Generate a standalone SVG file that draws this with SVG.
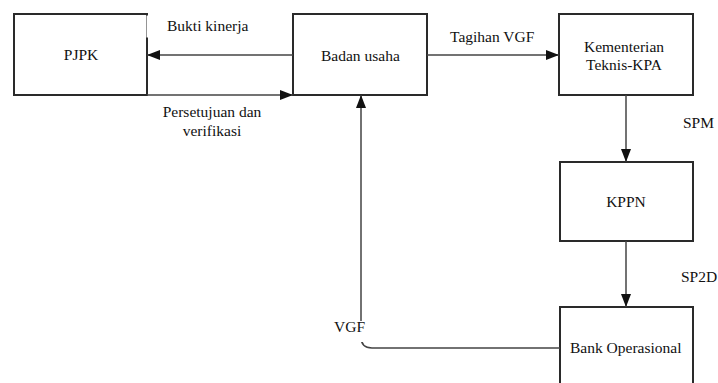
<svg xmlns="http://www.w3.org/2000/svg" width="718" height="383" viewBox="0 0 718 383">
  <defs>
    <marker id="head" markerUnits="userSpaceOnUse" markerWidth="14" markerHeight="10" refX="13" refY="5" orient="auto">
      <path d="M0,0 L13,5 L0,10 z" fill="#111111"/>
    </marker>
  </defs>
  <rect x="0" y="0" width="718" height="383" fill="#ffffff"/>

  <!-- nodes: boxes share one stroke, labels share one serif face -->
  <g id="pjpk" fill="#ffffff" stroke="#2a2a2a" stroke-width="2">
    <rect x="14" y="14" width="133" height="81"/>
    <text x="81" y="60" text-anchor="middle" font-family="'Liberation Serif', 'Times New Roman', serif" font-size="15.5" fill="#111111" stroke="none">PJPK</text>
  </g>
  <g id="badan-usaha" fill="#ffffff" stroke="#2a2a2a" stroke-width="2">
    <rect x="293" y="14" width="134" height="81"/>
    <text x="321" y="61" font-family="'Liberation Serif', 'Times New Roman', serif" font-size="15.5" fill="#111111" stroke="none">Badan usaha</text>
  </g>
  <g id="kementerian" fill="#ffffff" stroke="#2a2a2a" stroke-width="2">
    <rect x="559" y="14" width="134" height="81"/>
    <text x="624" y="52" text-anchor="middle" font-family="'Liberation Serif', 'Times New Roman', serif" font-size="15.5" fill="#111111" stroke="none">Kementerian</text>
    <text x="624" y="70" text-anchor="middle" font-family="'Liberation Serif', 'Times New Roman', serif" font-size="15.5" fill="#111111" stroke="none">Teknis-KPA</text>
  </g>
  <g id="kppn" fill="#ffffff" stroke="#2a2a2a" stroke-width="2">
    <rect x="560" y="162" width="133" height="79"/>
    <text x="626" y="207" text-anchor="middle" font-family="'Liberation Serif', 'Times New Roman', serif" font-size="15.5" fill="#111111" stroke="none">KPPN</text>
  </g>
  <g id="bank-operasional" fill="#ffffff" stroke="#2a2a2a" stroke-width="2">
    <rect x="560" y="307" width="133" height="90"/>
    <text x="570" y="353" font-family="'Liberation Serif', 'Times New Roman', serif" font-size="15.5" fill="#111111" stroke="none">Bank Operasional</text>
  </g>

  <!-- connectors -->
  <g id="connectors" fill="none" stroke="#444444" stroke-width="1.5">
    <path d="M293,55 H147" marker-end="url(#head)"/>
    <path d="M147,95 H293" marker-end="url(#head)"/>
    <path d="M427,55 H559" marker-end="url(#head)"/>
    <path d="M626,95 V162" marker-end="url(#head)"/>
    <path d="M626,241 V307" marker-end="url(#head)"/>
    <path d="M560,348 H372 Q361,348 361,337 V95" marker-end="url(#head)"/>
  </g>

  <!-- connector labels -->
  <g id="labels" font-family="'Liberation Serif', 'Times New Roman', serif" font-size="15.5" fill="#111111">
    <rect x="146.5" y="15.5" width="120" height="22" fill="#ffffff"/>
    <text x="167" y="31">Bukti kinerja</text>
    <text x="212" y="117" text-anchor="middle">Persetujuan dan</text>
    <text x="212" y="136" text-anchor="middle">verifikasi</text>
    <text x="450" y="42">Tagihan VGF</text>
    <text x="683" y="128">SPM</text>
    <text x="681" y="282">SP2D</text>
    <rect x="330" y="321" width="33" height="21" fill="#ffffff"/>
    <text x="334" y="332">VGF</text>
  </g>
</svg>
